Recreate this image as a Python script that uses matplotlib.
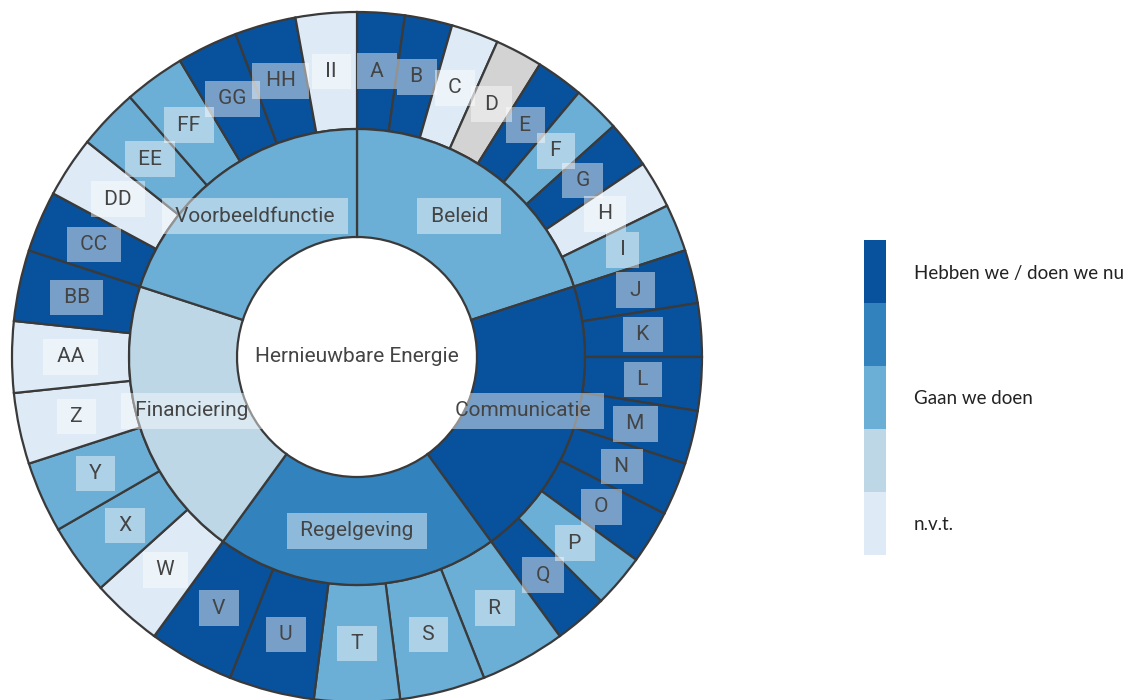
import matplotlib
matplotlib.use("Agg")
import matplotlib.pyplot as plt
import numpy as np
from matplotlib.colors import ListedColormap, BoundaryNorm
from matplotlib.cm import ScalarMappable

# status scale: 0 = n.v.t. ... 4 = hebben we / doen we nu, None = onbekend
LEVEL_COLORS = ["#deebf7", "#bdd7e7", "#6baed6", "#3182bd", "#08519c"]
MISSING_COLOR = "#d3d3d3"
LEGEND_TICKS = [4, 2, 0]
LEGEND_LABELS = ["Hebben we / doen we nu", "Gaan we doen", "n.v.t."]

CENTER_LABEL = "Hernieuwbare Energie"
categories = ["Beleid", "Communicatie", "Regelgeving", "Financiering", "Voorbeeldfunctie"]
category_scores = [2, 4, 3, 1, 2]

beleid_items = ["A", "B", "C", "D", "E", "F", "G", "H", "I"]
beleid_scores = [4, 4, 0, None, 4, 2, 4, 0, 2]
communicatie_items = ["J", "K", "L", "M", "N", "O", "P", "Q"]
communicatie_scores = [4, 4, 4, 4, 4, 4, 2, 4]
regelgeving_items = ["R", "S", "T", "U", "V"]
regelgeving_scores = [2, 2, 2, 4, 4]
financiering_items = ["W", "X", "Y", "Z", "AA", "BB"]
financiering_scores = [0, 2, 2, 0, 0, 4]
voorbeeld_items = ["CC", "DD", "EE", "FF", "GG", "HH", "II"]
voorbeeld_scores = [4, 0, 2, 2, 4, 4, 0]

item_groups = [beleid_items, communicatie_items, regelgeving_items,
               financiering_items, voorbeeld_items]
score_groups = [beleid_scores, communicatie_scores, regelgeving_scores,
                financiering_scores, voorbeeld_scores]


def color_for(score):
    return MISSING_COLOR if score is None else LEVEL_COLORS[score]


W, H = 1124, 700
CX, CY = 357, H - 357
R_OUT, R_MID, R_IN = 345, 228, 120
EDGE = "#3a3a3a"
TEXT = "#444444"

plt.rcParams["font.family"] = ["Roboto", "DejaVu Sans"]

fig = plt.figure(figsize=(W / 100, H / 100), dpi=100)
ax = fig.add_axes([0, 0, 1, 1])

# outer ring: each category gets an equal share, split evenly over its items
outer_vals, outer_cols, outer_labels = [], [], []
for items, scores in zip(item_groups, score_groups):
    for it, sc in zip(items, scores):
        outer_vals.append(1 / len(items))
        outer_cols.append(color_for(sc))
        outer_labels.append(it)

wedge_kw = dict(edgecolor=EDGE, linewidth=1.6)
outer, _ = ax.pie(outer_vals, colors=outer_cols, radius=R_OUT, center=(CX, CY),
                  startangle=90, counterclock=False,
                  wedgeprops=dict(width=R_OUT - R_MID, **wedge_kw))
inner, _ = ax.pie([1] * len(categories), colors=[color_for(s) for s in category_scores],
                  radius=R_MID, center=(CX, CY), startangle=90, counterclock=False,
                  wedgeprops=dict(width=R_MID - R_IN, **wedge_kw))

box = dict(boxstyle="square,pad=0.4", fc=(1, 1, 1, 0.45), ec="none")


def put_labels(wedges, labels, r):
    for w, lab in zip(wedges, labels):
        mid = np.deg2rad((w.theta1 + w.theta2) / 2)
        ax.text(CX + r * np.cos(mid), CY + r * np.sin(mid), f" {lab} ",
                ha="center", va="center", fontsize=15, color=TEXT, bbox=box, zorder=5)


put_labels(inner, categories, (R_MID + R_IN) / 2)
put_labels(outer, outer_labels, (R_OUT + R_MID) / 2)
ax.text(CX, CY, CENTER_LABEL, ha="center", va="center", fontsize=15, color=TEXT)

ax.set_xlim(0, W)
ax.set_ylim(0, H)
ax.set_axis_off()

# legend as a stepped colour bar
cax = fig.add_axes([864 / W, (H - 555) / H, 22 / W, 315 / H])
cmap = ListedColormap(LEVEL_COLORS)
norm = BoundaryNorm(np.arange(len(LEVEL_COLORS) + 1), cmap.N)
cb = fig.colorbar(ScalarMappable(norm=norm, cmap=cmap), cax=cax,
                  ticks=[t + 0.5 for t in LEGEND_TICKS])
cb.set_ticklabels(LEGEND_LABELS)
cb.outline.set_visible(False)
cax.minorticks_off()
cax.tick_params(which="both", length=0, pad=20, labelsize=13.5, labelcolor="#222222")
for t in cax.get_yticklabels():
    t.set_family(["Lato", "DejaVu Sans"])

fig.savefig("out.png", dpi=100)
